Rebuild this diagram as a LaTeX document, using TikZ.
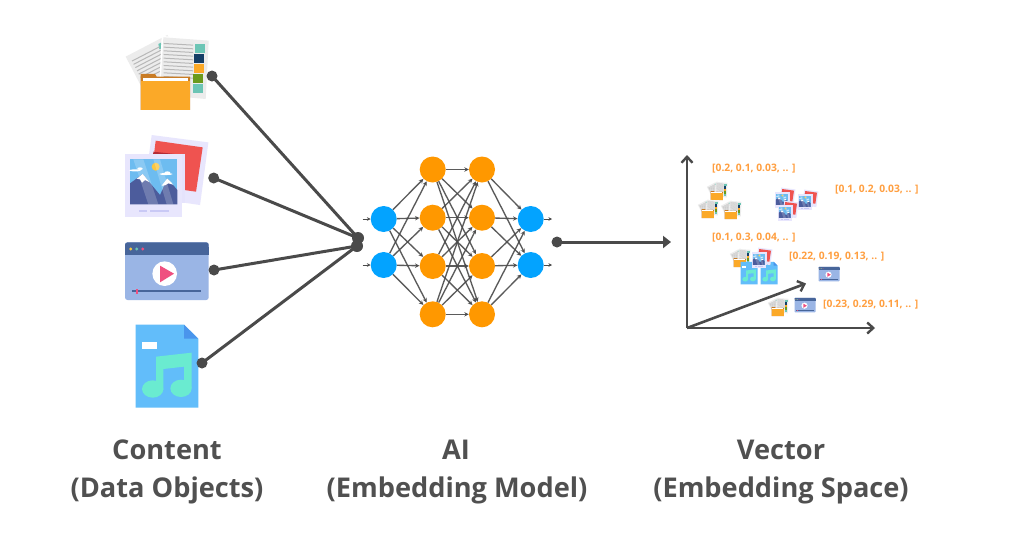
\documentclass[tikz,border=0pt]{standalone}
\usepackage{fontspec}
\setmainfont{Open Sans}
\usetikzlibrary{arrows.meta}
\definecolor{ink}{HTML}{4A4A4A}
\definecolor{headline}{HTML}{505050}
\definecolor{netblue}{HTML}{03A3FF}
\definecolor{netorange}{HTML}{FF9800}
\definecolor{vectext}{HTML}{FF9F40}
\definecolor{sheet}{HTML}{ECECEC}
\definecolor{sheetline}{HTML}{B8B8B8}
\definecolor{tealc}{HTML}{6CC5B5}
\definecolor{navyc}{HTML}{153E66}
\definecolor{amberc}{HTML}{FBA928}
\definecolor{greenc}{HTML}{6B9A1C}
\definecolor{tabc}{HTML}{C97C25}
\definecolor{framec}{HTML}{E8E6FD}
\definecolor{redc}{HTML}{EF5350}
\definecolor{redd}{HTML}{B52B35}
\definecolor{skyc}{HTML}{6DBCF0}
\definecolor{peakc}{HTML}{4C5C9C}
\definecolor{sunc}{HTML}{F9C741}
\definecolor{markc}{HTML}{C9C9F5}
\definecolor{playerc}{HTML}{9AB5E5}
\definecolor{barc}{HTML}{47659A}
\definecolor{pinkc}{HTML}{EF5080}
\definecolor{filec}{HTML}{62BDFA}
\definecolor{foldc}{HTML}{4A95EC}
\definecolor{notec}{HTML}{6AEBD0}
\tikzset{
  edge/.style={draw=ink,line width=1.35,-{Stealth[length=4.5,width=4.5]},opacity=.9},
  stub/.style={draw=ink,line width=1,-{Stealth[length=3.5,width=3.5]}},
  wire/.style={draw=ink,line width=3},
  axisline/.style={draw=ink,line width=2.6,-{Straight Barb[length=6,width=11,line width=2.4]}},
  dot/.style={circle,fill=ink,inner sep=0,minimum size=11},
  bluenode/.style={circle,fill=netblue,inner sep=0,minimum size=26},
  orangenode/.style={circle,fill=netorange,inner sep=0,minimum size=26},
  vlabel/.style={anchor=west,inner sep=0,text=vectext,font=\fontsize{10.3}{12}\selectfont\bfseries},
  caption/.style={anchor=base,inner sep=0,text=headline,font=\fontsize{27.2}{32}\selectfont\bfseries},
  pics/foldericon/.style={code={
    \begin{scope}[shift={(-170,-160)}]
      \fill[sheet] (47,110)--(172,45)--(245,175)--(115,240)--cycle;
      \fill[tealc] (145,72)--(153,68)--(155,85)--(148,88)--cycle;
      \foreach \t in {0,11,...,66}{
        \fill[sheetline] ({65+.461*\t},{122+.887*\t})--({148+.461*\t},{79+.887*\t})
          --({149.4+.461*\t},{81.7+.887*\t})--({66.4+.461*\t},{124.7+.887*\t})--cycle;}
      \fill[white] (155,48)--(300,58)--(291,241)--(146,229)--cycle;
      \fill[sheet] (160,52)--(296,62)--(287,237)--(150,225)--cycle;
      \foreach \t in {0,11,...,99}{
        \fill[sheetline] (161,{69+\t})--(249,{74+\t})--(249,{77+\t})--(161,{72+\t})--cycle;}
      \fill[tealc] (254,73) rectangle (284,100);
      \fill[navyc] (253,103) rectangle (283,130);
      \fill[amberc] (252,133) rectangle (282,160);
      \fill[greenc] (250,163) rectangle (280,190);
      \fill[tealc] (248,193) rectangle (278,220);
      \fill[tabc] (92,162)--(135,162)--(140,170)--(240,170)--(240,270)--(92,270)--cycle;
      \fill[white] (100,174) rectangle (235,190);
      \fill[amberc] (92,183) rectangle (240,270);
    \end{scope}}},
  pics/photoicon/.style={code={
    \begin{scope}[shift={(-170,-470)}]
      \fill[framec] (125,345)--(295,367)--(270,555)--(100,530)--cycle;
      \fill[redc] (137,362)--(278,382)--(258,515)--(120,495)--cycle;
      \fill[redd] (130,395)--(222,405)--(220,420)--(128,420)--cycle;
      \fill[framec!90!markc] (217,403) rectangle (225,550);
      \fill[framec] (45,403) rectangle (217,592);
      \fill[skyc] (60,418) rectangle (202,553);
      \fill[peakc] (60,553)--(60,490)--(98,462)--(150,525)--(172,475)--(202,510)--(202,553)--cycle;
      \fill[white] (80,476)--(98,462)--(118,486)--(105,480)--(96,488)--(90,478)--cycle;
      \fill[white] (155,497)--(172,475)--(190,494)--(175,490)--(165,496)--cycle;
      \fill[sunc] (137,440) circle[radius=12];
      \fill[white] (75,451) ellipse[x radius=18,y radius=3];
      \fill[white] (90,446) ellipse[x radius=8,y radius=4];
      \fill[white] (168,462) ellipse[x radius=20,y radius=3];
      \fill[white] (172,458) ellipse[x radius=9,y radius=4];
      \fill[white,opacity=.2] (70,418)--(100,418)--(145,553)--(115,553)--cycle;
      \fill[white,opacity=.2] (130,418)--(150,418)--(190,553)--(170,553)--cycle;
      \fill[markc] (87,570) rectangle (110,577);
      \fill[markc] (120,570) rectangle (177,577);
    \end{scope}}},
  pics/videoicon/.style={code={
    \begin{scope}[shift={(-170,-123)}]
      \fill[playerc,rounded corners=2.5*\pgfkeysvalueof{/tikz/iconunit}] (45,37) rectangle (296,210);
      \fill[barc,rounded corners=2.5*\pgfkeysvalueof{/tikz/iconunit}] (45,37) rectangle (296,60);
      \fill[barc] (45,52) rectangle (296,75);
      \fill[sunc] (62,57) circle[radius=5];
      \fill[tealc] (80,57) circle[radius=5];
      \fill[pinkc] (98,57) circle[radius=5];
      \fill[white] (164,131) circle[radius=37];
      \fill[pinkc] (150,107)--(192,131)--(150,157)--cycle;
      \fill[barc] (65,181) rectangle (272,187);
      \fill[pinkc] (78,177) rectangle (85,193);
    \end{scope}}},
  pics/musicicon/.style={code={
    \begin{scope}[shift={(-170,-408)}]
      \fill[filec] (77,284)--(222,284)--(265,326)--(265,533)--(77,533)--cycle;
      \fill[foldc] (222,284)--(264,326)--(222,326)--cycle;
      \fill[white] (97,335) rectangle (140,357);
      \fill[notec] (138,480)--(138,380)--(245,368)--(245,475)--(222,475)--(222,410)--(160,417)--(160,480)--cycle;
      \fill[notec] (128,477) ellipse[x radius=32,y radius=26];
      \fill[notec] (213,475) ellipse[x radius=32,y radius=26];
    \end{scope}}},
  iconunit/.initial=1pt
}
\begin{document}
\begin{tikzpicture}[x=1pt,y=-1pt]
  \useasboundingbox[fill=white] (0,0) rectangle (1024,536);

  % source objects, drawn at full size
  \pic[scale=1/3,iconunit=1pt] at (166.7,73.3) {foldericon};
  \pic[scale=1/3,iconunit=1pt] at (166.7,176.7) {photoicon};
  \pic[scale=1/3,iconunit=1pt] at (166.7,271) {videoicon};
  \pic[scale=1/3,iconunit=1pt] at (166.7,366) {musicicon};

  % connectors from the objects into the network
  \node[dot] (src1) at (212,76) {};
  \node[dot] (src2) at (213.7,178) {};
  \node[dot] (src3) at (214,270) {};
  \node[dot] (src4) at (202,363) {};
  \node[dot,minimum size=12] (hubA) at (358,238) {};
  \node[dot,minimum size=12] (hubB) at (357,246) {};
  \draw[wire] (src1.center) -- (hubA.center);
  \draw[wire] (src2.center) -- (hubA.center);
  \draw[wire] (src3.center) -- (hubB.center);
  \draw[wire] (src4.center) -- (hubB.center);

  % network layers
  \foreach \i/\y in {1/219,2/265}{
    \node[bluenode] (in\i) at (383.7,\y) {};
    \node[bluenode] (out\i) at (530.7,\y) {};
    \coordinate (inS\i) at (362.5,\y);
    \coordinate (outE\i) at (552,\y);
  }
  \foreach \i/\y in {1/169.5,2/217.7,3/266,4/314.3}{
    \node[orangenode] (hA\i) at (432.7,\y) {};
    \node[orangenode] (hB\i) at (482,\y) {};
  }
  \foreach \i in {1,2}{
    \draw[stub] (inS\i) -- (in\i);
    \draw[stub] (out\i) -- (outE\i);
    \foreach \j in {1,2,3,4}{
      \draw[edge] (in\i) -- (hA\j);
      \draw[edge] (hB\j) -- (out\i);
    }
  }
  \foreach \i in {1,2,3,4}{
    \foreach \j in {1,2,3,4}{
      \draw[edge] (hA\i) -- (hB\j);
    }
  }

  % output arrow
  \node[dot] (emit) at (557,242) {};
  \coordinate (emitEnd) at (671,242);
  \draw[wire,-{Triangle[length=8,width=12]}] (emit.center) -- (emitEnd);

  % embedding axes
  \coordinate (orig) at (687,328);
  \coordinate (axisY) at (687,155);
  \coordinate (axisX) at (875,328);
  \coordinate (axisZ) at (806,283.5);
  \draw[axisline] (orig) -- (axisY);
  \draw[axisline] (orig) -- (axisX);
  \draw[axisline] (orig) -- (axisZ);

  % objects placed in the embedding space
  \pic[scale=1/12] at (717,191) {foldericon};
  \pic[scale=1/12] at (708,209) {foldericon};
  \pic[scale=1/12] at (731,210) {foldericon};
  \pic[scale=1/12] at (740,258) {foldericon};
  \pic[scale=1/12] at (778,307) {foldericon};
  \pic[scale=1/12] at (785,198) {photoicon};
  \pic[scale=1/12] at (808,200) {photoicon};
  \pic[scale=1/12] at (788,211) {photoicon};
  \pic[scale=.09] at (749,273) {musicicon};
  \pic[scale=.09] at (769,273) {musicicon};
  \pic[scale=1/12] at (762,258) {photoicon};
  \pic[scale=1/12,iconunit=.25pt] at (829,274) {videoicon};
  \pic[scale=1/12,iconunit=.25pt] at (805,305) {videoicon};

  % vector labels
  \node[vlabel] (v1) at (712,169) {[0.2, 0.1, 0.03, .. ]};
  \node[vlabel] (v2) at (835,190) {[0.1, 0.2, 0.03, .. ]};
  \node[vlabel] (v3) at (712,238) {[0.1, 0.3, 0.04, .. ]};
  \node[vlabel] (v4) at (789,257) {[0.22, 0.19, 0.13, .. ]};
  \node[vlabel] (v5) at (823,305) {[0.23, 0.29, 0.11, .. ]};

  % column captions
  \node[caption] (c1a) at (167,459) {Content};
  \node[caption] (c1b) at (167,497) {(Data Objects)};
  \node[caption] (c2a) at (456,459) {AI};
  \node[caption] (c2b) at (457,497) {(Embedding Model)};
  \node[caption] (c3a) at (781,459) {Vector};
  \node[caption] (c3b) at (781,497) {(Embedding Space)};
\end{tikzpicture}
\end{document}
